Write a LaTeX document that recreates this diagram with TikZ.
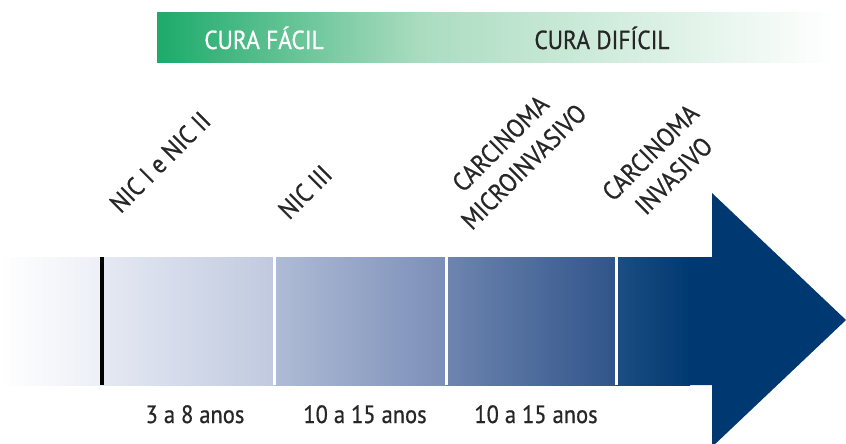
\documentclass[tikz,border=0pt]{standalone}
\usepackage{fontspec}
\setmainfont{PT Sans}[FakeStretch=0.9, FakeBold=0.7]
\definecolor{curagreen}{RGB}{28,170,106}
\definecolor{curamid}{RGB}{170,220,192}
\definecolor{labelgray}{RGB}{38,38,38}
\definecolor{navy}{RGB}{0,57,113}
\definecolor{bandA}{RGB}{236,239,246}
\definecolor{bandB}{RGB}{229,233,243}
\definecolor{bandC}{RGB}{192,201,223}
\definecolor{bandD}{RGB}{176,188,214}
\definecolor{bandE}{RGB}{122,142,184}
\definecolor{bandF}{RGB}{110,133,175}
\definecolor{bandG}{RGB}{48,84,138}
\definecolor{bandH}{RGB}{28,78,130}
\begin{document}
\begin{tikzpicture}[x=1pt, y=-1pt]
    \tikzset{
      stage/.style={rotate=45, align=center, text=labelgray, inner sep=0pt, font=\fontsize{26}{33}\selectfont},
      period/.style={anchor=base, text=labelgray, inner sep=0pt, font=\fontsize{25}{30}\selectfont},
      cura/.style={anchor=base, inner sep=0pt, font=\fontsize{26}{30}\selectfont},
      divider/.style={white, line width=3pt}
    }
    \useasboundingbox (0,0) rectangle (846,444);

    \shade[left color=curagreen, right color=curamid] (157,13) rectangle (420,63);
    \shade[left color=curamid, right color=white] (419.5,13) rectangle (835,63);
    \node[cura, text=white] (curafacil) at (264,49) {CURA FÁCIL};
    \node[cura, text=labelgray] (curadificil) at (602,49) {CURA DIFÍCIL};

    \shade[left color=white, right color=bandA] (0,257) rectangle (102,385);
    \shade[left color=bandB, right color=bandC] (102,257) rectangle (274,385);
    \shade[left color=bandD, right color=bandE] (274,257) rectangle (446,385);
    \shade[left color=bandF, right color=bandG] (446,257) rectangle (616,385);
    \shade[left color=bandH, right color=navy] (616,257) rectangle (690,385);
    \fill[navy] (689,257) -- (712,257) -- (712,193) -- (846,320) -- (712,447) -- (712,385) -- (689,385) -- cycle;

    \coordinate (nictop) at (102,257);
    \coordinate (nicbottom) at (102,385);
    \draw[black, line width=3.5pt] (nictop) -- (nicbottom);
    \foreach \x in {274,446,616} {
      \draw[divider] (\x,257) -- (\x,385);
    }

    \node[stage] (nicone) at (160,162) {NIC I e NIC II};
    \node[stage] (nicthree) at (305,192) {NIC III};
    \node[stage] (microinvasive) at (512,155) {CARCINOMA\\MICROINVASIVO};
    \node[stage] (invasive) at (662,164) {CARCINOMA\\INVASIVO};

    \node[period] (firstperiod) at (195,423) {3 a 8 anos};
    \node[period] (secondperiod) at (365,423) {10 a 15 anos};
    \node[period] (thirdperiod) at (536,423) {10 a 15 anos};
  \end{tikzpicture}
\end{document}
